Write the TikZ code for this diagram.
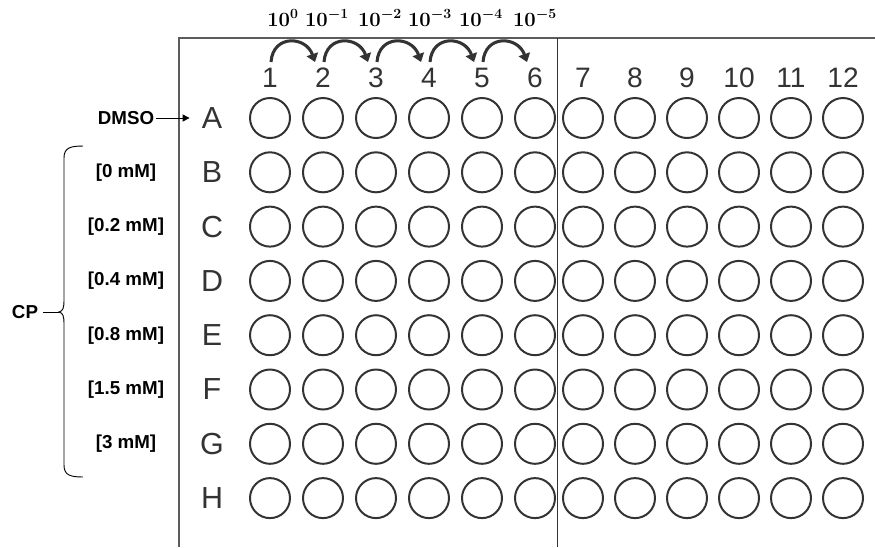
\documentclass[tikz,border=0pt]{standalone}
\usepackage{fontspec}
\setmainfont{Liberation Sans}
\usetikzlibrary{arrows.meta, calc}
\definecolor{PlateGray}{HTML}{333333}
\definecolor{FrameGray}{HTML}{5C5C5C}
\newcommand{\dilfac}[1]{{\boldmath$10^{#1}$}}

\begin{document}
\begin{tikzpicture}[x=0.03cm, y=-0.03cm,
    well/.style={circle, draw=PlateGray, line width=1.7pt, minimum size=1.2cm, inner sep=0pt},
    rowlbl/.style={font=\fontsize{26}{26}\selectfont, text=PlateGray, inner sep=0pt},
    collbl/.style={font=\fontsize{24}{24}\selectfont, text=PlateGray, inner sep=0pt},
    conc/.style={font=\fontsize{16}{16}\selectfont\bfseries, inner sep=0pt},
    dil/.style={font=\fontsize{17}{17}\selectfont\bfseries, inner sep=0pt, anchor=base},
    hop/.style={-{Triangle[length=7pt, width=10pt]}, line width=2.6pt, draw=PlateGray},
    pointer/.style={-{Triangle[length=6pt, width=6pt]}, line width=0.8pt},
    plateline/.style={draw=FrameGray, line width=1.2pt}
]
  \useasboundingbox (0,0) rectangle (875,547);

  % Plate outline and half divider
  \draw[plateline] (875,38) -- (179,38) -- (179,547);
  \draw[line width=0.8pt, draw=PlateGray] (557,38) -- (557,547);

  % Column numbers and wells
  \foreach \c in {1,...,12}{
    \pgfmathsetmacro{\cx}{\c<7 ? 270+53*(\c-1) : 583+52*(\c-7)}
    \node[collbl] (c\c) at (\cx,78) {\c};
    \coordinate (t\c) at (\cx,62);
    \foreach \r [count=\k from 0] in {A,B,C,D,E,F,G,H}{
      \node[well] (w\r\c) at (\cx,118+54.3*\k) {};
    }
  }

  % Row letters
  \foreach \r [count=\k from 0] in {A,B,C,D,E,F,G,H}{
    \node[rowlbl] (r\r) at (212,118+54.3*\k) {\r};
  }

  % Serial dilution
  \foreach \i [evaluate=\i as \j using int(\i+1)] in {1,...,5}{
    \draw[hop] ($(t\i)+(1,0)$) .. controls ($(t\i)+(3,-28)$) and ($(t\j)+(-17,-26)$) .. ($(t\j)+(-8,0)$);
  }
  \node[dil] (e0) at (283,26) {\dilfac{0}};
  \node[dil] (e1) at (327,26) {\dilfac{-1}};
  \node[dil] (e2) at (380,26) {\dilfac{-2}};
  \node[dil] (e3) at (430,26) {\dilfac{-3}};
  \node[dil] (e4) at (481,26) {\dilfac{-4}};
  \node[dil] (e5) at (535,26) {\dilfac{-5}};

  % Vehicle control
  \node[conc] (dmso) at (126,118) {DMSO};
  \draw[pointer, shorten <=0.05cm, shorten >=0.36cm] (dmso.east) -- (rA.west);

  % CP concentrations
  \foreach \r/\txt in {B/0, C/0.2, D/0.4, E/0.8, F/1.5, G/3}{
    \node[conc] (l\r) at (126,0 |- r\r) {[\txt{} mM]};
  }
  \node[conc] (cp) at (25,312) {CP};
  \coordinate (tip) at (59,312);
  \draw[line width=0.8pt] (83,146) .. controls (70,146) and (64,148) .. (64,158) -- (64,300)
    .. controls (64,308) and (63,311) .. (tip) .. controls (63,313) and (64,316) .. (64,324)
    -- (64,465) .. controls (64,475) and (70,477) .. (83,477);
  \draw[line width=0.8pt, shorten <=0.15cm] (cp.east) -- (tip);
\end{tikzpicture}
\end{document}
